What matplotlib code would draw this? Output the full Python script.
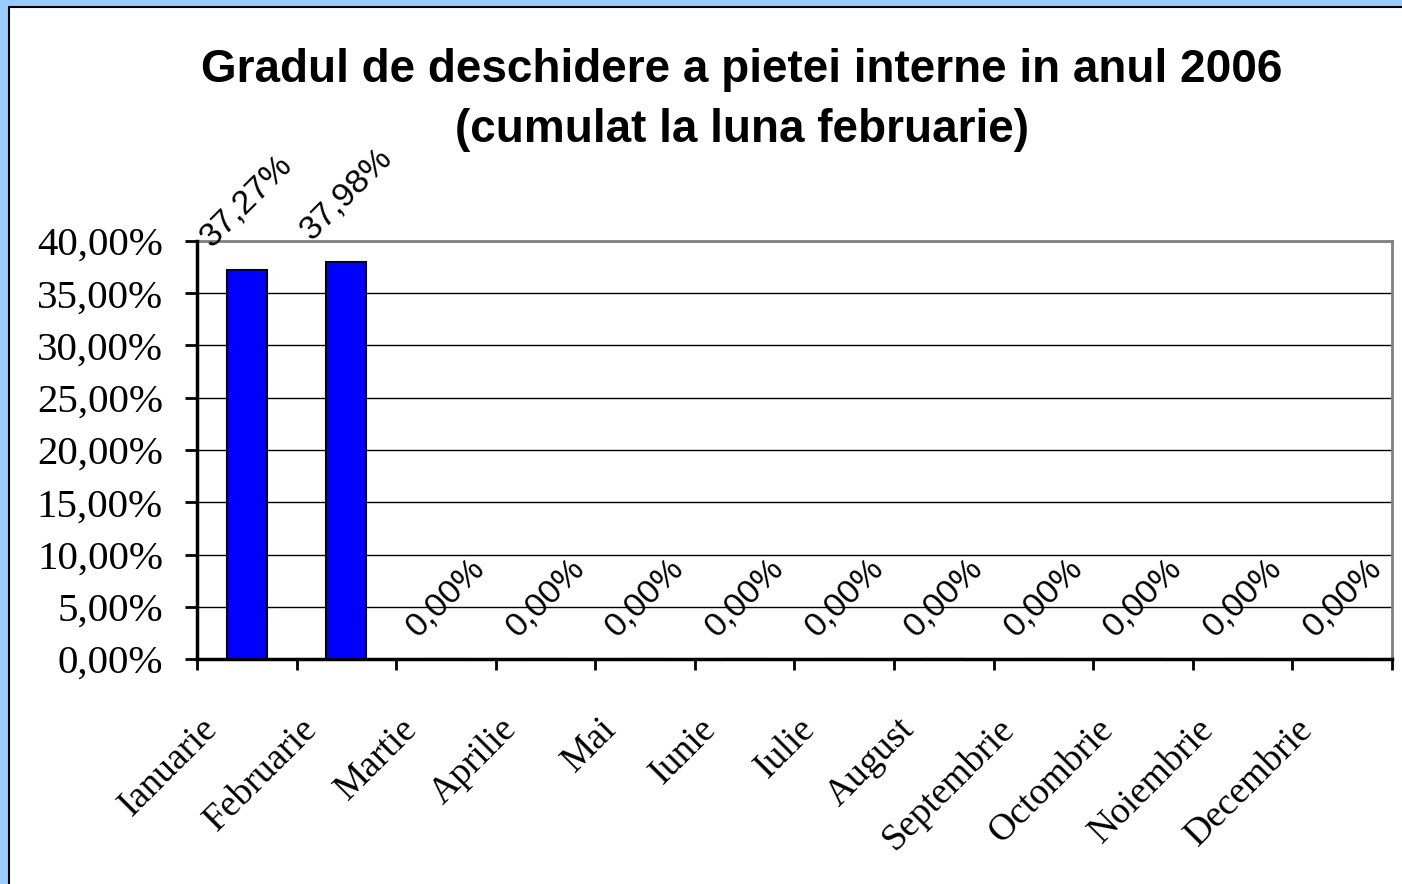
import matplotlib
matplotlib.use("Agg")
import matplotlib.pyplot as plt
from matplotlib.patches import Rectangle
from matplotlib.ticker import FuncFormatter
import numpy as np

# Data
months = ['Ianuarie', 'Februarie', 'Martie', 'Aprilie', 'Mai', 'Iunie',
          'Iulie', 'August', 'Septembrie', 'Octombrie', 'Noiembrie', 'Decembrie']
values = [37.27, 37.98, 0, 0, 0, 0, 0, 0, 0, 0, 0, 0]
yticks = [0, 5, 10, 15, 20, 25, 30, 35, 40]
title = 'Gradul de deschidere a pietei interne in anul 2006\n(cumulat la luna februarie)'

W, H = 1402, 884
fig = plt.figure(figsize=(W / 100, H / 100), dpi=100)
fig.patch.set_facecolor('#99CCFF')

# white panel with black frame (right/bottom run off the image)
fig.patches.append(Rectangle((9 / W, -0.05), 1.1, (H - 7) / H + 0.05,
                             transform=fig.transFigure, facecolor='white',
                             edgecolor='black', linewidth=1.5, zorder=-1))

ax = fig.add_axes([197 / W, (H - 659) / H, 1195 / W, 418 / H])
ax.set_zorder(2)
x = np.arange(len(months))
ax.bar(x, values, width=0.4, color='#0000FF', edgecolor='black', linewidth=1.5, zorder=3)

ax.set_xlim(-0.5, len(months) - 0.5)
ax.set_ylim(0, 40)
ax.set_yticks(yticks)
ax.yaxis.set_major_formatter(FuncFormatter(lambda v, p: f'{v:.2f}%'.replace('.', ',')))
ax.grid(axis='y', color='black', linewidth=1.0, zorder=1)

# ticks at category boundaries, labels drawn separately
ax.set_xticks(np.arange(len(months) + 1) - 0.5)
ax.set_xticklabels([])
ax.tick_params(axis='x', direction='out', length=8, width=2, color='black')
ax.tick_params(axis='y', direction='out', length=8.5, width=2, color='black', pad=16,
               labelsize=29.5)
for lab in ax.get_yticklabels():
    lab.set_fontfamily('Liberation Serif')

for side in ['top', 'right']:
    ax.spines[side].set_color('#808080')
    ax.spines[side].set_linewidth(2)
    ax.spines[side].set_zorder(4)
for side in ['left', 'bottom']:
    ax.spines[side].set_color('black')
    ax.spines[side].set_linewidth(2.5)
    ax.spines[side].set_zorder(5)

# month labels
for xi, m in zip(x, months):
    ax.annotate(m, xy=(xi, 0), xycoords=('data', 'axes fraction'),
                xytext=(-16, -38), textcoords='offset points',
                rotation=45, ha='right', va='top', fontsize=27,
                family='Liberation Serif', annotation_clip=False)

# data labels
for xi, v in zip(x, values):
    ax.annotate(f'{v:.2f}%'.replace('.', ','), xy=(xi, v),
                xytext=(0, 12), textcoords='offset points',
                rotation=45, ha='center', va='bottom', fontsize=24.5,
                family='Liberation Sans', annotation_clip=False, zorder=6)

fig.text(742 / W, (H - 100) / H, title, ha='center', va='center', fontsize=33,
         fontweight='bold', family='Liberation Sans', linespacing=1.46)

fig.savefig('out.png', dpi=100, facecolor=fig.get_facecolor())
